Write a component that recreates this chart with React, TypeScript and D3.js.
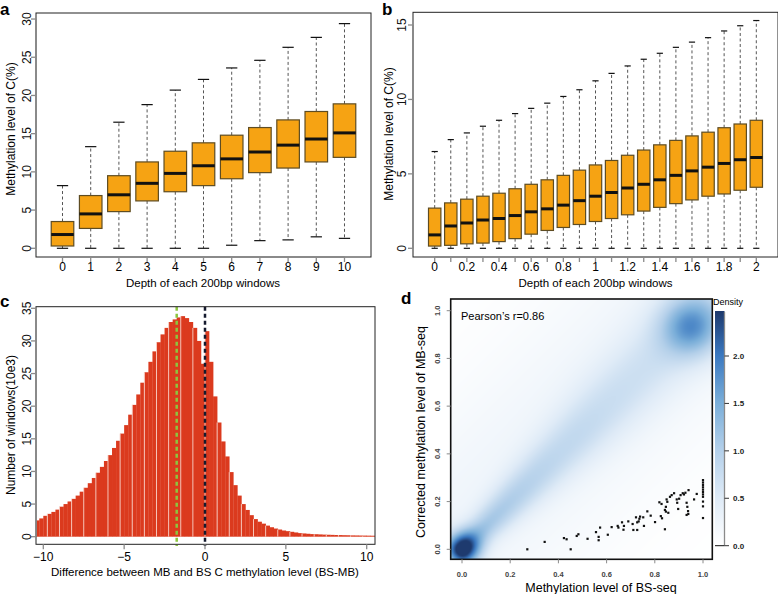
import React, { useMemo } from 'react'
import * as d3 from 'd3'

// ---- panel a : depth 0..10 ----
const depthA = [0, 1, 2, 3, 4, 5, 6, 7, 8, 9, 10]
const minA = [0, 0, 0, 0, 0, 0, 0.4, 1.0, 1.1, 1.5, 1.3]
const q1A = [0.3, 2.6, 4.8, 6.2, 7.4, 8.2, 9.1, 9.9, 10.5, 11.3, 11.9]
const medA = [1.8, 4.5, 7.0, 8.5, 9.8, 10.8, 11.7, 12.6, 13.5, 14.3, 15.1]
const q3A = [3.5, 6.9, 9.5, 11.3, 12.7, 13.8, 14.8, 15.8, 16.8, 17.9, 18.9]
const maxA = [8.2, 13.3, 16.5, 18.8, 20.7, 22.1, 23.6, 24.6, 26.3, 27.6, 29.4]
const yTicksA = [0, 5, 10, 15, 20, 25, 30]

// ---- panel b : depth 0..2 ----
const depthB = [0, 0.1, 0.2, 0.3, 0.4, 0.5, 0.6, 0.7, 0.8, 0.9, 1.0, 1.1, 1.2, 1.3, 1.4, 1.5, 1.6, 1.7, 1.8, 1.9, 2.0]
const minB = [0, 0, 0, 0, 0, 0, 0, 0, 0, 0, 0, 0, 0, 0, 0, 0, 0, 0, 0, 0, 0]
const q1B = [0.15, 0.2, 0.3, 0.35, 0.45, 0.65, 0.95, 1.2, 1.4, 1.6, 1.8, 2.0, 2.25, 2.5, 2.75, 3.0, 3.25, 3.5, 3.65, 3.9, 4.1]
const medB = [0.9, 1.5, 1.7, 1.9, 2.0, 2.2, 2.45, 2.65, 2.9, 3.2, 3.5, 3.75, 4.05, 4.3, 4.6, 4.9, 5.2, 5.45, 5.7, 5.95, 6.1]
const q3B = [2.7, 3.05, 3.3, 3.5, 3.7, 4.0, 4.3, 4.6, 4.9, 5.25, 5.6, 5.9, 6.25, 6.6, 6.95, 7.25, 7.55, 7.8, 8.1, 8.35, 8.6]
const maxB = [6.5, 7.3, 7.75, 8.2, 8.6, 9.05, 9.4, 9.75, 10.2, 10.65, 11.25, 11.75, 12.25, 12.7, 13.1, 13.5, 13.85, 14.15, 14.6, 14.95, 15.3]
const xLabelsB = [0, 0.2, 0.4, 0.6, 0.8, 1, 1.2, 1.4, 1.6, 1.8, 2]
const yTicksB = [0, 5, 10, 15]

// ---- panel c : histogram of BS-MB, bins of 0.25 from -10.5 ----
const binStartC = -10.5
const binWidthC = 0.25
const countsC = [
  2.5, 2.8, 3.2, 3.5, 3.8, 4.15, 4.6, 5.0, 5.4, 5.8, 6.3, 6.9, 7.5, 8.2, 9.0, 9.8,
  10.7, 11.6, 12.5, 13.6, 14.7, 15.8, 17.1, 18.7, 20.2, 21.8, 23.6, 25.2, 26.8, 28.4,
  29.8, 31.0, 32.0, 32.9, 33.3, 33.6, 33.8, 33.5, 32.9, 32.0, 30.0, 26.5,
  31.5, 26.8, 21.5, 17.5, 14.6, 12.3, 9.9, 7.9, 6.3, 5.0, 4.1, 3.3, 2.7, 2.3, 2.0,
  1.7, 1.45, 1.25, 1.1, 0.95, 0.85, 0.75, 0.65, 0.55, 0.5, 0.45, 0.4, 0.38, 0.35,
  0.32, 0.3, 0.28, 0.26, 0.25, 0.23, 0.22, 0.2, 0.19, 0.18, 0.17, 0.16, 0.15,
]
const meanDiffC = -1.75
const xTicksC = [-10, -5, 0, 5, 10]
const yTicksC = [0, 5, 10, 15, 20, 25, 30, 35]

// ---- panel d : density of BS vs MB ----
const blobX = [0.005, 0.953]
const blobY = [0.003, 0.933]
const blobPeak = [1.75, 1.2]
const blobSpread = [0.05, 0.085]
const ridgeT = [0, 0.1, 0.2, 0.3, 0.4, 0.5, 0.6, 0.7, 0.8, 0.9, 1.0]
const ridgeLevel = [0.9, 0.9, 0.8, 0.7, 0.62, 0.58, 0.52, 0.48, 0.45, 0.42, 0.4]
const ridgeSpread = [0.04, 0.045, 0.055, 0.065, 0.075, 0.085, 0.095, 0.1, 0.105, 0.11, 0.11]
const haloLevel = 0.25
const haloSpread = 0.3
const haloShift = 0.06
const densityStops = [0, 0.5, 1, 1.5, 2, 2.45]
const densityColors = ['#ffffff', '#dfebf7', '#b4d0ea', '#7aaed9', '#3a78c0', '#1e3a6e']
const densityTicks = [0, 0.5, 1, 1.5, 2]
const ticksD = [0, 0.2, 0.4, 0.6, 0.8, 1.0]

const outlierBS = [
  0.271, 0.343, 0.423, 0.434, 0.451, 0.476, 0.483, 0.521, 0.556, 0.567, 0.567, 0.573, 0.605,
  0.621, 0.646, 0.649, 0.664, 0.67, 0.672, 0.69, 0.708, 0.711, 0.722, 0.727, 0.727, 0.736,
  0.739, 0.733, 0.752, 0.755, 0.769, 0.783, 0.801, 0.819, 0.828, 0.825, 0.83, 0.842, 0.842,
  0.846, 0.849, 0.852, 0.846, 0.856, 0.863, 0.87, 0.88, 0.891, 0.893, 0.897, 0.901, 0.907,
  0.916, 0.921, 0.927, 0.932, 0.935, 0.938, 0.932, 0.939, 0.94, 0.963, 0.974,
  1.0, 1.0, 1.0, 1.0, 1.0, 1.0, 1.0, 1.0, 1.0, 1.0, 1.0,
]
const outlierMB = [
  0.0, 0.031, 0.047, 0.042, 0.0, 0.056, 0.063, 0.044, 0.072, 0.052, 0.038, 0.091, 0.061,
  0.093, 0.098, 0.091, 0.113, 0.082, 0.098, 0.117, 0.106, 0.081, 0.134, 0.113, 0.081, 0.128,
  0.137, 0.117, 0.134, 0.098, 0.159, 0.141, 0.114, 0.197, 0.19, 0.139, 0.13, 0.084, 0.165,
  0.178, 0.209, 0.199, 0.158, 0.153, 0.22, 0.227, 0.235, 0.209, 0.195, 0.169, 0.212, 0.227,
  0.235, 0.23, 0.237, 0.195, 0.178, 0.16, 0.144, 0.148, 0.248, 0.209, 0.232,
  0.29, 0.28, 0.27, 0.26, 0.25, 0.24, 0.23, 0.22, 0.2, 0.18, 0.131,
]

const FONT = 'Liberation Sans, Arial, Helvetica, sans-serif'
const BOX_FILL = '#f6a313'
const BOX_EDGE = '#5e4c22'
const AXIS_GREY = '#8a8a8a'

type BoxProps = {
  cats: number[]
  mins: number[]
  q1s: number[]
  meds: number[]
  q3s: number[]
  maxs: number[]
  x: d3.ScaleLinear<number, number>
  y: d3.ScaleLinear<number, number>
  bw: number
}

const Boxes = ({ cats, mins, q1s, meds, q3s, maxs, x, y, bw }: BoxProps) => (
  <g>
    {cats.map((c, i) => {
      const cx = x(c)
      return (
        <g key={i}>
          <line x1={cx} x2={cx} y1={y(q3s[i])} y2={y(maxs[i])} stroke='#555' strokeWidth={1} strokeDasharray='3,2.5' />
          <line x1={cx} x2={cx} y1={y(q1s[i])} y2={y(mins[i])} stroke='#555' strokeWidth={1} strokeDasharray='3,2.5' />
          <line x1={cx - bw / 4} x2={cx + bw / 4} y1={y(maxs[i])} y2={y(maxs[i])} stroke='#111' strokeWidth={1.2} />
          <line x1={cx - bw / 4} x2={cx + bw / 4} y1={y(mins[i])} y2={y(mins[i])} stroke='#111' strokeWidth={1.2} />
          <rect x={cx - bw / 2} y={y(q3s[i])} width={bw} height={y(q1s[i]) - y(q3s[i])} fill={BOX_FILL} stroke={BOX_EDGE} strokeWidth={1.2} />
          <line x1={cx - bw / 2} x2={cx + bw / 2} y1={y(meds[i])} y2={y(meds[i])} stroke='#111' strokeWidth={3} />
        </g>
      )
    })}
  </g>
)

// R-style left axis: grey line, ticks, labels rotated and reading upwards
const YTicks = ({ ticks, y, x0, fmt, size = 12, color = '#111', weight = 'normal', base, len = 5 }: any) => (
  <g>
    <line x1={x0} x2={x0} y1={y(ticks[0])} y2={y(ticks[ticks.length - 1])} stroke={AXIS_GREY} strokeWidth={1.8} />
    {ticks.map((t: number) => (
      <g key={t}>
        <line x1={x0 - len} x2={x0} y1={y(t)} y2={y(t)} stroke={AXIS_GREY} strokeWidth={1.3} />
        <text transform={`translate(${base},${y(t)}) rotate(-90)`} textAnchor='middle' fontSize={size} fill={color} fontWeight={weight} fontFamily={FONT}>
          {fmt ? fmt(t) : t}
        </text>
      </g>
    ))}
  </g>
)

const interpLevel = d3.scaleLinear().domain(ridgeT).range(ridgeLevel).clamp(true)
const interpSpread = d3.scaleLinear().domain(ridgeT).range(ridgeSpread).clamp(true)

function densityAt(px: number, py: number) {
  let v = 0
  blobX.forEach((bx, i) => {
    const d2 = (px - bx) ** 2 + (py - blobY[i]) ** 2
    v += blobPeak[i] * Math.exp(-d2 / (2 * blobSpread[i] ** 2))
  })
  const t = Math.max(0, Math.min(1, (px + py) / 2))
  const d2 = (px - t) ** 2 + (py - t) ** 2
  const s = interpSpread(t)
  v += interpLevel(t) * Math.exp(-d2 / (2 * s * s))
  const p = (py - px) / Math.SQRT2
  v += haloLevel * Math.exp(-((p - haloShift) ** 2) / (2 * haloSpread ** 2))
  return v
}

export default function App() {
  // panel a scales
  const xA = d3.scaleLinear().domain([-0.94, 10.94]).range([36, 371])
  const yA = d3.scaleLinear().domain([-1.14, 30.79]).range([257, 13])
  // panel b
  const xB = d3.scaleLinear().domain([0, 2]).range([434.7, 756.3])
  const yB = d3.scaleLinear().domain([0, 15]).range([248.3, 25])
  // panel c
  const xC = d3.scaleLinear().domain([0, 10]).range([205, 366.7])
  const yC = d3.scaleLinear().domain([0, 35]).range([536.7, 308.3])
  // panel d
  const xD = d3.scaleLinear().domain([0, 1]).range([462, 703])
  const yD = d3.scaleLinear().domain([0, 1]).range([549.3, 310.7])
  const frameD = { x0: 450.7, x1: 712.3, y0: 299, y1: 559.3 }
  const colorD = d3.scaleLinear<string>().domain(densityStops).range(densityColors).interpolate(d3.interpolateRgb).clamp(true)
  const cbar = d3.scaleLinear().domain([0, 2]).range([545.7, 356])

  const heatUrl = useMemo(() => {
    const w = Math.round(frameD.x1 - frameD.x0)
    const h = Math.round(frameD.y1 - frameD.y0)
    const canvas = document.createElement('canvas')
    canvas.width = w
    canvas.height = h
    const ctx = canvas.getContext('2d')
    if (!ctx) return ''
    const img = ctx.createImageData(w, h)
    for (let j = 0; j < h; j++) {
      for (let i = 0; i < w; i++) {
        const vx = xD.invert(frameD.x0 + i + 0.5)
        const vy = yD.invert(frameD.y0 + j + 0.5)
        const c = d3.rgb(colorD(densityAt(vx, vy)))
        const k = (j * w + i) * 4
        img.data[k] = c.r
        img.data[k + 1] = c.g
        img.data[k + 2] = c.b
        img.data[k + 3] = 255
      }
    }
    ctx.putImageData(img, 0, 0)
    return canvas.toDataURL()
  }, [])

  const bwA = (xA(1) - xA(0)) * 0.8
  const bwB = (xB(0.1) - xB(0)) * 0.77
  const binPx = xC(binWidthC) - xC(0)
  const leftB = 413

  return (
    <svg width={778} height={594} style={{ position: 'absolute', left: 0, top: 0, background: '#fff' }} fontFamily={FONT}>
      <defs>
        <linearGradient id='cbarGrad' x1='0' x2='0' y1='1' y2='0'>
          {densityStops.map((s, i) => (
            <stop key={i} offset={s / 2.45} stopColor={densityColors[i]} />
          ))}
        </linearGradient>
        <clipPath id='clipC'>
          <rect x={36} y={306.7} width={339} height={237.6} />
        </clipPath>
      </defs>

      {/* ---------- panel a ---------- */}
      <text x={0} y={15} fontSize={17} fontWeight='bold'>a</text>
      <rect x={36} y={13} width={335} height={244} fill='none' stroke='#222' strokeWidth={1} />
      <Boxes cats={depthA} mins={minA} q1s={q1A} meds={medA} q3s={q3A} maxs={maxA} x={xA} y={yA} bw={bwA} />
      <YTicks ticks={yTicksA} y={yA} x0={36} base={30.5} />
      <line x1={xA(0)} x2={xA(10)} y1={257} y2={257} stroke={AXIS_GREY} strokeWidth={1.8} />
      {depthA.map(d => (
        <g key={d}>
          <line x1={xA(d)} x2={xA(d)} y1={257} y2={262} stroke={AXIS_GREY} strokeWidth={1.3} />
          <text x={xA(d)} y={271} textAnchor='middle' fontSize={12}>{d}</text>
        </g>
      ))}
      <text x={203} y={287} textAnchor='middle' fontSize={11.5}>Depth of each 200bp windows</text>
      <text transform='translate(15,129) rotate(-90)' textAnchor='middle' fontSize={12}>Methylation level of C(%)</text>

      {/* ---------- panel b ---------- */}
      <text transform='translate(393,134) rotate(-90)' textAnchor='middle' fontSize={12}>Methylation level of C(%)</text>
      <rect x={leftB} y={12.3} width={778 - leftB} height={244.7} fill='#fff' stroke='#222' strokeWidth={1} />
      <text x={382} y={15} fontSize={17} fontWeight='bold'>b</text>
      <Boxes cats={depthB} mins={minB} q1s={q1B} meds={medB} q3s={q3B} maxs={maxB} x={xB} y={yB} bw={bwB} />
      <YTicks ticks={yTicksB} y={yB} x0={leftB} base={406} />
      <line x1={xB(0)} x2={xB(2)} y1={257} y2={257} stroke={AXIS_GREY} strokeWidth={1.8} />
      {depthB.map(d => (
        <line key={d} x1={xB(d)} x2={xB(d)} y1={257} y2={262} stroke={AXIS_GREY} strokeWidth={1.3} />
      ))}
      {xLabelsB.map(d => (
        <text key={d} x={xB(d)} y={271} textAnchor='middle' fontSize={12}>{d}</text>
      ))}
      <text x={xB(1)} y={287} textAnchor='middle' fontSize={11.5}>Depth of each 200bp windows</text>

      {/* ---------- panel c ---------- */}
      <text x={0} y={307} fontSize={17} fontWeight='bold'>c</text>
      <g clipPath='url(#clipC)'>
        {countsC.map((v, i) => {
          const x0 = xC(binStartC + i * binWidthC)
          return <rect key={i} x={x0} y={yC(v)} width={binPx + 0.3} height={yC(0) - yC(v)} fill='#db3a1e' />
        })}
        {countsC.map((v, i) =>
          i % 3 === 0 ? (
            <line key={'w' + i} x1={xC(binStartC + i * binWidthC)} x2={xC(binStartC + i * binWidthC)} y1={yC(v)} y2={yC(0)} stroke='#f8d2c8' strokeWidth={0.9} />
          ) : null
        )}
      </g>
      <line x1={xC(meanDiffC)} x2={xC(meanDiffC)} y1={306.7} y2={546} stroke='#8cc63e' strokeWidth={2.5} strokeDasharray='4,3' />
      <line x1={xC(0)} x2={xC(0)} y1={306.7} y2={546} stroke='#141a2e' strokeWidth={2.5} strokeDasharray='4,3' />
      <rect x={36} y={306.7} width={339} height={237.6} fill='none' stroke='#222' strokeWidth={1} />
      <YTicks ticks={yTicksC} y={yC} x0={36} base={30.5} />
      {xTicksC.map(t => (
        <g key={t}>
          <line x1={xC(t)} x2={xC(t)} y1={544.3} y2={549.3} stroke={AXIS_GREY} strokeWidth={1.3} />
          <text x={xC(t)} y={561} textAnchor='middle' fontSize={12}>{t < 0 ? '\u2212' + Math.abs(t) : t}</text>
        </g>
      ))}
      <text x={205} y={576} textAnchor='middle' fontSize={11.5}>Difference between MB and BS C methylation level (BS-MB)</text>
      <text transform='translate(15,425) rotate(-90)' textAnchor='middle' fontSize={12}>Number of windows(10e3)</text>

      {/* ---------- panel d ---------- */}
      <text x={401} y={304} fontSize={17} fontWeight='bold'>d</text>
      <image href={heatUrl} x={frameD.x0} y={frameD.y0} width={frameD.x1 - frameD.x0} height={frameD.y1 - frameD.y0} preserveAspectRatio='none' />
      {outlierBS.map((bx, i) => (
        <rect key={i} x={xD(bx) - 1.1} y={yD(outlierMB[i]) - 1.1} width={2.2} height={2.2} fill='#111' />
      ))}
      <rect x={frameD.x0} y={frameD.y0} width={frameD.x1 - frameD.x0} height={frameD.y1 - frameD.y0} fill='none' stroke='#111' strokeWidth={1.6} />
      <text x={461} y={320} fontSize={11}>{'Pearson\u2019s r=0.86'}</text>
      {ticksD.map(t => (
        <g key={t}>
          <line x1={xD(t)} x2={xD(t)} y1={frameD.y1} y2={frameD.y1 + 4} stroke={AXIS_GREY} strokeWidth={1} />
          <text x={xD(t)} y={577} textAnchor='middle' fontSize={7.5} fontWeight='bold' fill='#444'>{t.toFixed(1)}</text>
          <line x1={frameD.x0 - 4} x2={frameD.x0} y1={yD(t)} y2={yD(t)} stroke={AXIS_GREY} strokeWidth={1} />
          <text transform={`translate(${440},${yD(t)}) rotate(-90)`} textAnchor='middle' fontSize={7.5} fontWeight='bold' fill='#444'>{t.toFixed(1)}</text>
        </g>
      ))}
      <text x={601} y={592} textAnchor='middle' fontSize={12.5}>Methylation level of BS-seq</text>
      <text transform='translate(425,432) rotate(-90)' textAnchor='middle' fontSize={12.5}>Corrected methylation level of MB-seq</text>

      {/* colour bar */}
      <text x={713} y={305} fontSize={9}>Density</text>
      <rect x={715} y={312} width={9.5} height={233.7} fill='url(#cbarGrad)' />
      <line x1={715} x2={724.5} y1={312} y2={312} stroke='#1e3a6e' strokeWidth={2} />
      <line x1={724.5} x2={724.5} y1={312} y2={545.7} stroke={AXIS_GREY} strokeWidth={1.3} />
      <line x1={715} x2={724.5} y1={545.7} y2={545.7} stroke='#111' strokeWidth={1} />
      {densityTicks.map(t => (
        <g key={t}>
          <line x1={724.5} x2={729} y1={cbar(t)} y2={cbar(t)} stroke='#333' strokeWidth={1} />
          <text x={733} y={cbar(t) + 3} fontSize={8} fontWeight='bold' fill='#222'>{t.toFixed(1)}</text>
        </g>
      ))}
    </svg>
  )
}
